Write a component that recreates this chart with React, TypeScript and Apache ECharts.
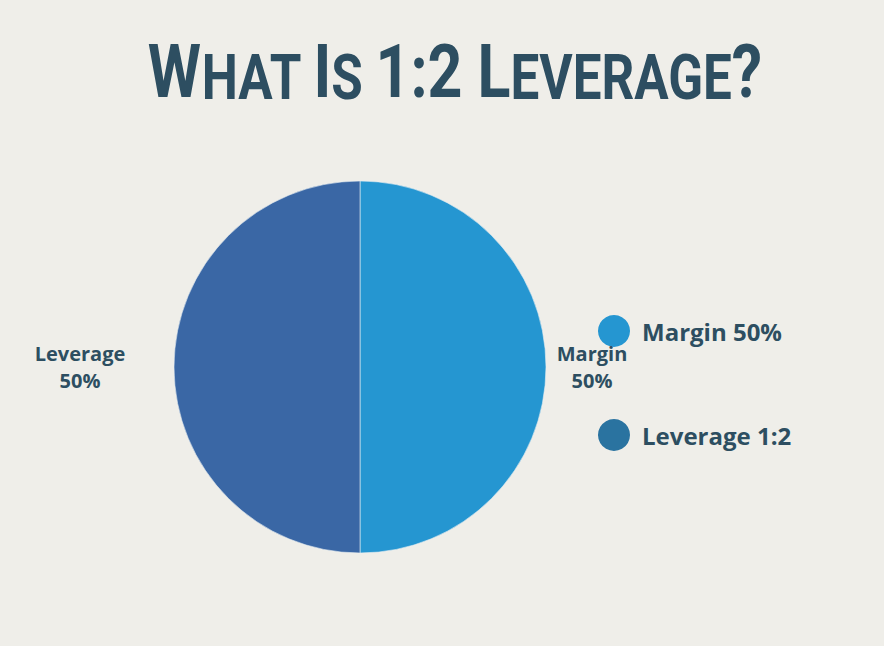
import React, { useEffect, useRef } from "react";
import * as echarts from "echarts";

const categories = ["Margin", "Leverage"];
const values = [50, 50];
const sliceColors = ["#2596D1", "#3A67A5"];
const legendLabels = ["Margin 50%", "Leverage 1:2"];
const legendColors = ["#2596D1", "#2A73A0"];
const titleText = "{b|W}{s|HAT }{b|I}{s|S }{b|1:2 L}{s|EVERAGE}{b|?}";

const BG = "#EFEEE9";
const INK = "#2D4E61";
const FONT = "'Open Sans', 'Noto Sans', sans-serif";
const TFONT = "Roboto, 'Liberation Sans', sans-serif";

export default function App() {
  const ref = useRef<HTMLDivElement>(null);
  useEffect(() => {
    const chart = echarts.init(ref.current!, null, { renderer: "svg" });
    const labelWidths = [72, 96];
    const lineLens = [[5, 0], [20, 21]];
    chart.setOption({
      animation: false,
      backgroundColor: BG,
      series: [
        {
          type: "pie",
          center: [360, 367],
          radius: 186,
          startAngle: 90,
          clockwise: true,
          avoidLabelOverlap: false,
          itemStyle: { borderColor: "#E8EEF2", borderWidth: 0.6 },
          data: categories.map((c, i) => ({
            name: c,
            value: values[i],
            itemStyle: { color: sliceColors[i] },
            label: {
              show: true,
              position: "outside",
              distanceToLabelLine: 5,
              formatter: "{a|{b}}\n{a|{d}%}",
              rich: {
                a: {
                  width: labelWidths[i],
                  align: "center",
                  fontSize: 20,
                  fontWeight: "bold",
                  fontFamily: FONT,
                  color: INK,
                  lineHeight: 27,
                },
              },
            },
            labelLine: { show: false, length: lineLens[i][0], length2: lineLens[i][1] },
          })),
          emphasis: { disabled: true },
        },
      ],
      graphic: [
        {
          type: "text",
          x: 455,
          y: 72,
          scaleX: 0.812,
          style: {
            text: titleText,
            align: "center",
            verticalAlign: "middle",
            fill: INK,
            rich: {
              b: {
                fontSize: 75,
                fontWeight: "bold",
                fontFamily: TFONT,
                fill: INK,
                verticalAlign: "bottom",
              },
              s: {
                fontSize: 63,
                fontWeight: "bold",
                fontFamily: TFONT,
                fill: INK,
                verticalAlign: "bottom",
              },
            },
          },
        },
        ...legendLabels.map((t, i) => ({
          type: "group",
          children: [
            {
              type: "circle",
              shape: { cx: 614, cy: 331 + i * 104, r: 16 },
              style: { fill: legendColors[i] },
            },
            {
              type: "text",
              x: 642,
              y: 331 + i * 104,
              style: {
                text: t,
                fill: INK,
                fontSize: 24,
                fontWeight: "bold",
                fontFamily: FONT,
                verticalAlign: "middle",
              },
            },
          ],
        })),
      ],
    });
    return () => chart.dispose();
  }, []);
  return (
    <div
      ref={ref}
      style={{ position: "fixed", left: 0, top: 0, width: 884, height: 646 }}
    />
  );
}
